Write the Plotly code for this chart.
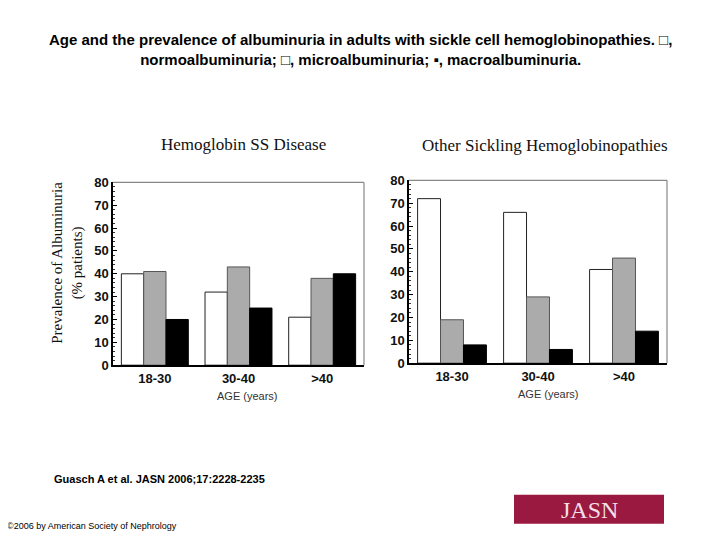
import plotly.graph_objects as go

ages = ["18-30", "30-40", ">40"]
series_names = ["Normoalbuminuria", "Microalbuminuria", "Macroalbuminuria"]
ss_normo = [40, 32, 21]
ss_micro = [41, 43, 38]
ss_macro = [20, 25, 40]
other_normo = [72, 66, 41]
other_micro = [19, 29, 46]
other_macro = [8, 6, 14]
y_ticks = [0, 10, 20, 30, 40, 50, 60, 70, 80]

fills = ["#ffffff", "#ababab", "#000000"]
edges = ["#222222", "#555555", "#000000"]

OFF = 8  # default page body margin
W, H = 720 - 2 * OFF, 540
# measured vertical mapping of the photographed page: shown = 8.6 + 0.968 * planned
VA, VB = 8.6, 0.968


def px(x):
    return (x - OFF) / W


def py(y):
    planned = (y - VA) / VB
    return 1 - (planned - OFF) / H


fig = go.Figure()
for vals, ax in [((ss_normo, ss_micro, ss_macro), ("x", "y")),
                 ((other_normo, other_micro, other_macro), ("x2", "y2"))]:
    for i, v in enumerate(vals):
        fig.add_trace(go.Bar(x=ages, y=v, name=series_names[i], xaxis=ax[0], yaxis=ax[1],
                             marker=dict(color=fills[i], line=dict(color=edges[i], width=1)),
                             showlegend=False))

sans = "Liberation Sans, Arial, sans-serif"
serif = "Liberation Serif, Times New Roman, serif"

yax = dict(range=[0, 80], tickvals=y_ticks, showgrid=False, zeroline=False,
           showline=True, linecolor="#000000", linewidth=1.5,
           ticks="inside", ticklen=4, tickcolor="#000",
           minor=dict(dtick=2, ticks="inside", ticklen=2, tickcolor="#333"),
           tickfont=dict(family=sans, size=13, color="#111", weight="bold"), fixedrange=True)
xax = dict(showgrid=False, zeroline=False, showline=True, linecolor="#000000", linewidth=1.5,
           ticks="", tickfont=dict(family=sans, size=13, color="#111", weight="bold"), fixedrange=True)

fig.update_layout(
    width=W, height=H, margin=dict(l=0, r=0, t=0, b=0),
    paper_bgcolor="white", plot_bgcolor="white",
    barmode="group", bargap=0.2, bargroupgap=0,
    xaxis=dict(domain=[px(113), px(364)], anchor="y", **xax),
    yaxis=dict(domain=[py(365), py(183)], anchor="x", **yax),
    xaxis2=dict(domain=[px(409), px(667)], anchor="y2", **xax),
    yaxis2=dict(domain=[py(363), py(181)], anchor="x2", **yax),
)

# frame top/right borders
for xr, yr in [("x domain", "y domain"), ("x2 domain", "y2 domain")]:
    fig.add_shape(type="line", xref=xr, yref=yr, x0=0, x1=1, y0=1, y1=1,
                  line=dict(color="#888888", width=1.2))
    fig.add_shape(type="line", xref=xr, yref=yr, x0=1, x1=1, y0=0, y1=1,
                  line=dict(color="#888888", width=1.2))


def note(text, x, y, size, family=sans, color="#000", weight="normal", xanchor="center", **kw):
    return dict(text=text, x=px(x), y=py(y), xref="paper", yref="paper", showarrow=False,
                xanchor=xanchor, yanchor="middle",
                font=dict(family=family, size=size, color=color, weight=weight), **kw)


ann = [
    note("Age and the prevalence of albuminuria in adults with sickle cell hemoglobinopathies. □,<br>normoalbuminuria; □, microalbuminuria; ▪, macroalbuminuria.",
         360, 51, 15, weight="bold", align="center"),
    note("Hemoglobin SS Disease", 243, 145, 17, family=serif, color="#111"),
    note("Other Sickling Hemoglobinopathies", 545, 146, 17, family=serif, color="#111"),
    note("Prevalence of Albuminuria<br>(% patients)", 68, 263, 15, family=serif, color="#111", textangle=-90),
    note("AGE (years)", 247, 396, 11, color="#333"),
    note("AGE (years)", 548, 394, 11, color="#333"),
    note("Guasch A et al. JASN 2006;17:2228-2235", 52, 478, 11, weight="bold", xanchor="left"),
    note("©2006 by American Society of Nephrology", 5, 525, 9, xanchor="left"),
    note("JASN", 589, 509, 24, family=serif, color="#f3dfe6"),
]
fig.update_layout(annotations=ann)

fig.add_shape(type="rect", xref="paper", yref="paper", x0=px(514), x1=px(664),
              y0=py(523), y1=py(494), fillcolor="#9a1940", line=dict(width=0), layer="below")

fig.write_html("out.html")
